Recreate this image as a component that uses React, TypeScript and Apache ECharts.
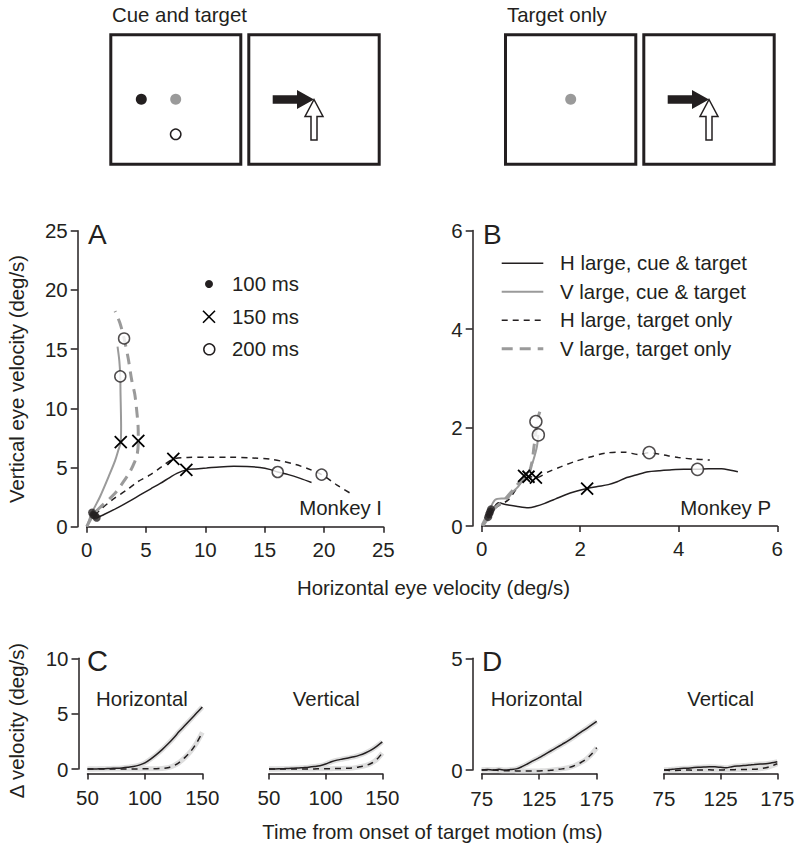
import React, { useEffect, useRef } from "react";
import * as echarts from "echarts";

const FONT = "'Liberation Sans', Arial, Helvetica, sans-serif";
const INK = "#231f20";
const GRAY = "#9a9a9a";
const BAND = "#dedede";

// ---------- Panel A (Monkey I) : [horizontal, vertical] eye velocity ----------
const aHCue = [[0.84,0.75],[1.5,1.05],[2.5,1.55],[3.5,2.1],[4.5,2.68],[5.4,3.2],[6.2,3.66],[7.0,4.15],[7.6,4.5],[8.4,4.8],[9.2,4.88],[10.1,4.95],[11.2,5.05],[12.4,5.1],[13.5,5.08],[14.6,5.0],[15.5,4.82],[16.1,4.62],[17.0,4.4],[18.0,4.08],[18.95,3.73]];
const aHTarget = [[0.7,0.95],[1.12,1.41],[2.2,2.3],[3.37,3.1],[4.3,3.8],[5.34,4.37],[6.3,5.05],[7.3,5.72],[8.5,5.85],[10,5.87],[12,5.87],[14,5.8],[15.5,5.7],[16.6,5.5],[17.6,5.25],[18.6,4.92],[19.8,4.4],[21.1,3.52],[22.35,2.75]];
const aVCue = [[0.05,0.1],[0.45,1.2],[1.12,2.53],[1.96,4.5],[2.4,5.6],[2.67,6.48],[2.87,7.15],[2.9,8.5],[2.88,9.86],[2.85,11.3],[2.83,12.7],[2.75,14.0],[2.6,15.2]];
const aVTarget = [[0,0],[0.55,1.0],[1.2,1.7],[2.39,2.82],[3.1,3.8],[3.65,4.65],[4.05,5.5],[4.27,6.2],[4.35,7.25],[4.33,8.5],[4.21,9.86],[4.05,11.2],[3.79,12.4],[3.5,14.2],[3.15,15.9],[2.8,17.2],[2.39,18.2]];
const aAt100 = [[0.84,0.75],[0.7,0.95],[0.45,1.2],[0.55,1.0]];
const aAt150 = [[8.4,4.8],[7.3,5.72],[2.87,7.15],[4.35,7.25]];
const aAt200 = [[16.1,4.62],[19.8,4.4],[2.83,12.7],[3.15,15.9]];

// ---------- Panel B (Monkey P) ----------
const bHCue = [[0.17,0.26],[0.25,0.38],[0.34,0.47],[0.51,0.43],[0.7,0.4],[0.95,0.37],[1.1,0.4],[1.28,0.46],[1.5,0.55],[1.69,0.63],[1.9,0.7],[2.14,0.76],[2.35,0.8],[2.57,0.84],[2.75,0.9],[2.91,0.97],[3.15,1.04],[3.38,1.1],[3.6,1.12],[3.86,1.14],[4.1,1.15],[4.38,1.15],[4.6,1.16],[4.87,1.16],[5.05,1.13],[5.2,1.1]];
const bHTarget = [[0.02,0],[0.15,0.2],[0.3,0.38],[0.54,0.53],[0.7,0.75],[0.86,0.95],[1.0,1.0],[1.1,0.98],[1.35,1.1],[1.6,1.2],[1.89,1.31],[2.2,1.4],[2.5,1.48],[2.91,1.5],[3.18,1.45],[3.4,1.49],[3.7,1.44],[3.99,1.39],[4.3,1.36],[4.63,1.34]];
const bVCue = [[0,0.02],[0.14,0.29],[0.27,0.53],[0.4,0.56],[0.51,0.56],[0.62,0.68],[0.74,0.8],[0.86,0.98],[0.91,1.04],[1.0,1.2],[1.05,1.34],[1.12,1.61],[1.15,1.85]];
const bVTarget = [[0.02,0],[0.12,0.15],[0.25,0.35],[0.45,0.52],[0.65,0.75],[0.82,0.95],[0.95,1.05],[1.02,1.3],[1.06,1.6],[1.1,1.9],[1.12,2.12],[1.18,2.32]];
const bAt100 = [[0.13,0.18],[0.15,0.24],[0.17,0.29],[0.19,0.34]];
const bAt150 = [[2.14,0.76],[1.1,0.98],[0.86,1.02],[0.95,1.0]];
const bAt200 = [[4.38,1.15],[3.4,1.49],[1.15,1.85],[1.1,2.12]];

// ---------- Panel C (Monkey I) : delta velocity vs time ----------
const cTime = [50,55,60,65,70,75,80,85,90,95,100,105,110,115,120,125,130,135,140,145,150];
const cHorizCue = [0,0,0.02,0.03,0.05,0.07,0.1,0.15,0.22,0.35,0.55,0.9,1.3,1.75,2.25,2.8,3.4,3.95,4.5,5.05,5.6];
const cHorizTarget = [0,0,0,0,0,0,0,0,0.01,0.01,0.02,0.02,0.03,0.05,0.12,0.3,0.6,1.05,1.6,2.35,3.3];
const cVertCue = [0,0,0.02,0.04,0.06,0.08,0.12,0.16,0.22,0.3,0.45,0.65,0.8,0.9,1.0,1.1,1.25,1.45,1.7,2.05,2.45];
const cVertTarget = [0,0,0,0,0,0,0,0.01,0.01,0.02,0.02,0.03,0.04,0.05,0.07,0.1,0.2,0.3,0.5,0.85,1.45];

// ---------- Panel D (Monkey P) ----------
const dTime = [75,80,85,90,95,100,105,110,115,120,125,130,135,140,145,150,155,160,165,170,175];
const dHorizCue = [0,0.02,0,0.03,0,0.02,0.05,0.15,0.28,0.42,0.55,0.7,0.85,1.0,1.15,1.3,1.47,1.65,1.82,2.0,2.18];
const dHorizTarget = [0,0,0,-0.02,-0.03,-0.03,-0.04,-0.05,-0.05,-0.05,-0.04,-0.03,-0.01,0.02,0.05,0.1,0.18,0.3,0.45,0.68,1.0];
const dVertCue = [0,0.02,0.05,0.07,0.08,0.1,0.12,0.13,0.15,0.14,0.12,0.1,0.15,0.18,0.2,0.22,0.25,0.27,0.28,0.32,0.37];
const dVertTarget = [0,-0.02,-0.02,-0.01,0,-0.01,0,0,0.01,0,0,0.01,0.01,0.02,0.02,0.03,0.03,0.06,0.1,0.18,0.28];

const aTicksLabels = ["100 ms", "150 ms", "200 ms"];
const legendNames = ["H large, cue & target", "V large, cue & target", "H large, target only", "V large, target only"];

const zip = (t: number[], v: number[]) => t.map((x, i) => [x, v[i]]);

const STYLES = {
  hCue: { color: INK, width: 1.5, type: "solid" as any },
  vCue: { color: GRAY, width: 2, type: "solid" as any },
  hTarget: { color: INK, width: 1.5, type: [6, 5] as any },
  vTarget: { color: GRAY, width: 3, type: [11, 7] as any },
};

function line(data: number[][], idx: number, ls: any, z = 3): any {
  return {
    type: "line", xAxisIndex: idx, yAxisIndex: idx, data, showSymbol: false, symbol: "none",
    smooth: 0.3, lineStyle: { ...ls }, z, clip: false, silent: true,
  };
}
function band(data: number[][], idx: number): any {
  return {
    type: "line", xAxisIndex: idx, yAxisIndex: idx, data, showSymbol: false, symbol: "none",
    smooth: 0.3, lineStyle: { color: BAND, width: 5 }, z: 2, clip: false, silent: true,
  };
}
function markers(data: number[][], idx: number, kind: "dot" | "x" | "o", size: number): any {
  const base: any = { type: "scatter", xAxisIndex: idx, yAxisIndex: idx, data, z: 5, silent: true };
  if (kind === "dot") return { ...base, symbol: "circle", symbolSize: 8, itemStyle: { color: INK } };
  if (kind === "x") return { ...base, symbol: "path://M0,0L10,10M10,0L0,10", symbolSize: size, itemStyle: { color: "rgba(0,0,0,0)", borderColor: "#000", borderWidth: 1.8, opacity: 1 } };
  return { ...base, symbol: "circle", symbolSize: size, itemStyle: { color: "#fff", borderColor: INK, borderWidth: 1.5 } };
}

const axisBase = {
  type: "value",
  splitLine: { show: false },
  axisLine: { show: true, onZero: false, lineStyle: { color: INK, width: 1.5 } },
  axisTick: { show: true, length: 6, lineStyle: { color: INK, width: 1.5 } },
  axisLabel: { color: INK, fontSize: 20.5, fontFamily: FONT },
};

function xAx(idx: number, min: number, max: number, ticks: number[], offset: number, margin: number): any {
  return {
    ...axisBase, gridIndex: idx, min, max, offset,
    axisTick: { ...axisBase.axisTick, customValues: ticks },
    axisLabel: { ...axisBase.axisLabel, margin, customValues: ticks },
  };
}
function yAx(idx: number, min: number, max: number, ticks: number[], show = true): any {
  return {
    ...axisBase, gridIndex: idx, min, max, offset: 9, show,
    axisTick: { ...axisBase.axisTick, length: 7, customValues: ticks },
    axisLabel: { ...axisBase.axisLabel, margin: 10, customValues: ticks },
  };
}

function txt(text: string, x: number, y: number, opts: any = {}): any {
  return {
    type: "text", x, y, rotation: opts.rotation || 0, silent: true,
    style: {
      text, fontFamily: FONT, fontSize: opts.size || 20.4, fill: INK,
      align: opts.align || "left", verticalAlign: opts.va || "middle",
    },
  };
}

function arrows(dx: number): any[] {
  const tipX = 314 + dx, tipY = 99.5;
  return [
    {
      type: "polygon", silent: true,
      shape: { points: [[272.7 + dx, 95.3], [297 + dx, 95.3], [297 + dx, 90], [tipX, tipY], [297 + dx, 109], [297 + dx, 103.7], [272.7 + dx, 103.7]] },
      style: { fill: INK },
    },
    {
      type: "polygon", silent: true,
      shape: { points: [[tipX, tipY], [tipX + 9, 116.5], [tipX + 3, 116.5], [tipX + 3, 140], [tipX - 3, 140], [tipX - 3, 116.5], [tipX - 9, 116.5]] },
      style: { fill: "#fff", stroke: INK, lineWidth: 1.5 },
    },
  ];
}

export default function App() {
  const ref = useRef<HTMLDivElement>(null);
  useEffect(() => {
    if (!ref.current) return;
    const chart = echarts.init(ref.current, null, { renderer: "svg" });

    const box = (x: number, w: number): any => ({
      type: "rect", silent: true, shape: { x, y: 34.8, width: w, height: 129.5 },
      style: { fill: "none", stroke: INK, lineWidth: 3 },
    });

    const graphic: any[] = [
      txt("Cue and target", 112, 15),
      txt("Target only", 507, 15),
      box(110.8, 130), box(248.8, 130.4), box(505.5, 130.3), box(643.8, 130.4),
      { type: "circle", silent: true, shape: { cx: 141.3, cy: 99.3, r: 5.5 }, style: { fill: INK } },
      { type: "circle", silent: true, shape: { cx: 175.7, cy: 99.3, r: 5.5 }, style: { fill: GRAY } },
      { type: "circle", silent: true, shape: { cx: 175.7, cy: 134.3, r: 5.2 }, style: { fill: "#fff", stroke: INK, lineWidth: 1.5 } },
      { type: "circle", silent: true, shape: { cx: 570.7, cy: 99.3, r: 5.5 }, style: { fill: GRAY } },
      ...arrows(0), ...arrows(395),
      // panel letters
      txt("A", 88, 234, { size: 28 }),
      txt("B", 483, 234, { size: 28 }),
      txt("C", 87, 661, { size: 29 }),
      txt("D", 482, 661, { size: 28 }),
      // legend A
      { type: "circle", silent: true, shape: { cx: 209, cy: 284, r: 4 }, style: { fill: INK } },
      { type: "line", silent: true, shape: { x1: 203, y1: 310.7, x2: 215, y2: 322.7 }, style: { stroke: "#000", lineWidth: 1.6 } },
      { type: "line", silent: true, shape: { x1: 215, y1: 310.7, x2: 203, y2: 322.7 }, style: { stroke: "#000", lineWidth: 1.6 } },
      { type: "circle", silent: true, shape: { cx: 209.3, cy: 349.3, r: 5.5 }, style: { fill: "#fff", stroke: INK, lineWidth: 1.5 } },
      txt(aTicksLabels[0], 232, 284),
      txt(aTicksLabels[1], 232, 316.7),
      txt(aTicksLabels[2], 232, 349.3),
      // legend B
      ...[STYLES.hCue, STYLES.vCue, STYLES.hTarget, STYLES.vTarget].map((s, i) => ({
        type: "line", silent: true,
        shape: { x1: 501.7, y1: [263.3, 291.7, 320.3, 348.7][i], x2: 543.3, y2: [263.3, 291.7, 320.3, 348.7][i] },
        style: { stroke: s.color, lineWidth: s.width, lineDash: Array.isArray(s.type) ? s.type : null },
      })),
      ...legendNames.map((n, i) => txt(n, 560, [263.3, 291.7, 320.3, 348.7][i])),
      txt("Monkey I", 382, 508, { align: "right" }),
      txt("Monkey P", 771, 508, { align: "right" }),
      txt("Horizontal", 142, 699, { align: "center" }),
      txt("Vertical", 326.3, 699, { align: "center" }),
      txt("Horizontal", 536.7, 698.5, { align: "center" }),
      txt("Vertical", 720.7, 698.5, { align: "center" }),
      // axis titles
      txt("Vertical eye velocity (deg/s)", 17, 379, { align: "center", rotation: Math.PI / 2 }),
      txt("Horizontal eye velocity (deg/s)", 433.5, 588, { align: "center" }),
      txt("Δ velocity (deg/s)", 17, 720.5, { align: "center", rotation: Math.PI / 2 }),
      txt("Time from onset of target motion (ms)", 432.5, 832, { align: "center" }),
    ];

    const option: any = {
      animation: false,
      backgroundColor: "#fff",
      grid: [
        { left: 86.7, top: 230.7, width: 296.6, height: 296 },
        { left: 481.7, top: 230.5, width: 295.6, height: 295.5 },
        { left: 87.5, top: 658.3, width: 114.8, height: 110.7 },
        { left: 269, top: 658.3, width: 113.3, height: 110.7 },
        { left: 481.7, top: 658.3, width: 115, height: 111.7 },
        { left: 664, top: 658.3, width: 113.3, height: 111.7 },
      ],
      xAxis: [
        xAx(0, 0, 25, [0, 5, 10, 15, 20, 25], 0, 12),
        xAx(1, 0, 6, [0, 2, 4, 6], 0, 12),
        xAx(2, 50, 150, [50, 100, 150], 4.5, 13),
        xAx(3, 50, 150, [50, 100, 150], 4.5, 13),
        xAx(4, 75, 175, [75, 125, 175], 3.5, 14),
        xAx(5, 75, 175, [75, 125, 175], 3.5, 14),
      ],
      yAxis: [
        yAx(0, 0, 25, [0, 5, 10, 15, 20, 25]),
        yAx(1, 0, 6, [0, 2, 4, 6]),
        yAx(2, 0, 10, [0, 5, 10]),
        yAx(3, 0, 10, [0, 5, 10], false),
        yAx(4, 0, 5, [0, 5]),
        yAx(5, 0, 5, [0, 5], false),
      ],
      series: [
        line(aHCue, 0, STYLES.hCue), line(aHTarget, 0, STYLES.hTarget),
        line(aVCue, 0, STYLES.vCue), line(aVTarget, 0, STYLES.vTarget),
        markers(aAt100, 0, "dot", 8), markers(aAt150, 0, "x", 12), markers(aAt200, 0, "o", 11),
        line(bHCue, 1, STYLES.hCue), line(bHTarget, 1, STYLES.hTarget),
        line(bVCue, 1, STYLES.vCue), line(bVTarget, 1, STYLES.vTarget),
        markers(bAt100, 1, "dot", 8), markers(bAt150, 1, "x", 12), markers(bAt200, 1, "o", 12),
        band(zip(cTime, cHorizCue), 2), band(zip(cTime, cHorizTarget), 2),
        line(zip(cTime, cHorizCue), 2, STYLES.hCue), line(zip(cTime, cHorizTarget), 2, STYLES.hTarget),
        band(zip(cTime, cVertCue), 3), band(zip(cTime, cVertTarget), 3),
        line(zip(cTime, cVertCue), 3, STYLES.hCue), line(zip(cTime, cVertTarget), 3, STYLES.hTarget),
        band(zip(dTime, dHorizCue), 4), band(zip(dTime, dHorizTarget), 4),
        line(zip(dTime, dHorizCue), 4, STYLES.hCue), line(zip(dTime, dHorizTarget), 4, STYLES.hTarget),
        band(zip(dTime, dVertCue), 5), band(zip(dTime, dVertTarget), 5),
        line(zip(dTime, dVertCue), 5, STYLES.hCue), line(zip(dTime, dVertTarget), 5, STYLES.hTarget),
      ],
      graphic,
    };
    chart.setOption(option);
    return () => chart.dispose();
  }, []);
  return (
    <div
      ref={ref}
      style={{ position: "absolute", left: 0, top: 0, width: 800, height: 851, background: "#fff" }}
    />
  );
}
